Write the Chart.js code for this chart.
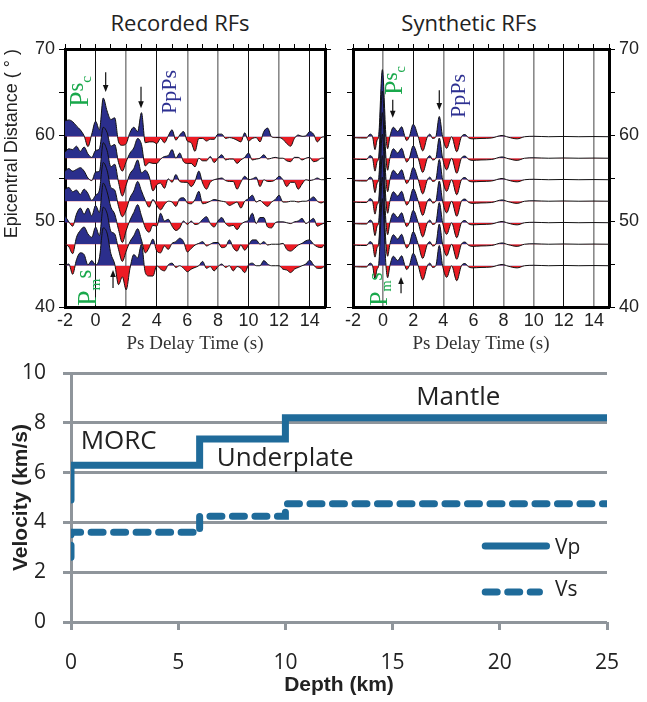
<!DOCTYPE html>
<html>
<head>
<meta charset="utf-8">
<title>Receiver functions and velocity model</title>
<script src="https://cdn.jsdelivr.net/npm/chart.js@4.4.1/dist/chart.umd.min.js"></script>
<style>
  body { margin: 0; background: #fff; }
  #fig { position: relative; width: 647px; height: 702px; overflow: hidden; }
  #fig canvas { position: absolute; }
  .ttl { position: absolute; top: 7px; font: 22px "Open Sans", sans-serif; line-height: 30px; color: #222;
         transform: translateX(-50%); white-space: nowrap; }
  .vlab { position: absolute; transform-origin: 0 0; transform: rotate(-90deg); white-space: nowrap;
          line-height: 1; font-family: "Liberation Serif", "Times New Roman", serif; }
  .vlab span { position: relative; }
</style>
</head>
<body>
<div id="fig">
  <div class="ttl" style="left:180px">Recorded RFs</div>
  <div class="ttl" style="left:469px">Synthetic RFs</div>
  <canvas id="recChart" width="335" height="365" style="left:0;top:0"></canvas>
  <canvas id="synChart" width="317" height="365" style="left:330px;top:0"></canvas>
  <canvas id="velChart" width="647" height="342" style="left:0;top:360px"></canvas>
</div>
<script>
// ---- data ----
// recorded RFs: delay time (s) and amplitude (in degrees of the y axis) per trace
const recTimes = [
  -2, -1.75, -1.5, -1.25, -1, -0.75, -0.5, -0.25, 0, 0.25, 0.5, 0.75, 1, 1.25, 1.5, 1.75,
  2, 2.25, 2.5, 2.75, 3, 3.25, 3.5, 3.75, 4, 4.25, 4.5, 4.75, 5, 5.25, 5.5, 5.75,
  6, 6.25, 6.5, 6.75, 7, 7.25, 7.5, 7.75, 8, 8.25, 8.5, 8.75, 9, 9.25, 9.5, 9.75,
  10, 10.25, 10.5, 10.75, 11, 11.25, 11.5, 11.75, 12, 12.25, 12.5, 12.75, 13, 13.25, 13.5, 13.75,
  14, 14.25, 14.5, 14.75, 15
];
const recDistances = [44.8, 47.3, 49.8, 52.3, 54.8, 57.3, 59.8];

const rec45 = [0.0, 0.2, -1.0, 0.7, 1.5, 1.3, 0.1, 0.6, 0.1, 0.9, 4.4, 3.8, 1.4, 0.2, -2.2, -1.3,
  -2.8, -0.3, 1.3, 0.9, 2.5, -0.8, -1.2, -1.2, 0.0, -0.4, -0.6, 0.1, 0.3, -0.2, 0.0, -0.3,
  -0.7, -0.4, -0.2, 0.0, 0.5, -0.3, -0.1, -0.6, -0.1, 0.2, -0.2, 0.0, -0.6, -0.1, -0.3, -0.8,
  0.1, 0.3, 0.0, 0.0, 0.6, 0.2, 0.0, 0.0, 0.0, -0.4, -0.5, -0.8, -0.4, -0.2, 0.0, 0.2,
  0.65, 0.1, -0.3, -0.3, 0];
const rec47 = [0.0, -0.3, -1.1, 0.8, 1.6, 2.0, 1.2, 0.8, 2.0, 1.0, 4.3, 3.6, 1.5, 1.2, -0.6, -2.0,
  -0.8, 0.3, 1.0, 1.8, 0.5, -1.0, -0.4, 0.6, -0.8, -1.0, -0.2, -0.6, 0.1, 0.3, 0.7, 0.3,
  -0.9, -0.5, -0.1, 0.1, 0.3, -0.2, 0.0, 0.2, 0.2, -0.4, -0.3, 0.5, -0.4, -0.8, -0.1, -0.7,
  -0.1, 0.5, 0.5, 0.0, 0.3, -0.1, 0.0, 0.0, 0.0, 0.1, -0.6, -0.8, -0.5, -0.1, 0.1, 0.4,
  0.5, 0.0, -0.3, -0.4, 0];
const rec50 = [0.8, 0.1, -0.4, 1.0, 1.7, 1.0, 1.7, 0.8, 2.0, 1.2, 4.6, 3.6, 1.8, 1.0, -0.8, -2.3,
  -0.9, 0.3, 1.2, 2.1, 0.8, -0.6, -1.1, -0.3, -0.4, 1.1, 0.2, 0.4, -0.4, -0.9, -0.6, 0.2,
  -0.2, 0.2, -0.2, -0.1, 0.4, 0.7, -0.1, -0.5, 0.2, 0.6, -0.1, -0.4, -0.3, -0.8, -0.2, 0.1,
  0.3, 1.1, -0.1, 0.6, 0.6, -0.5, -0.6, 0.0, 0.1, 0.1, 0.0, -0.1, 0.1, 0.2, 0.5, -0.1,
  0.2, 0.5, -0.4, -0.2, 0];
const rec52 = [1.4, 1.6, 1.1, 1.3, 0.8, 1.4, 0.9, 0.1, 0.7, 1.3, 4.5, 3.6, 1.6, 1.3, -0.6, -1.8,
  -1.0, 0.4, 1.2, 2.3, 1.2, 0.1, -0.7, 0.2, -0.5, -1.0, -0.4, 0.0, -0.1, -0.6, 0.3, 0.4,
  -0.2, -0.3, 0.2, 1.15, -0.3, -0.2, 0.0, 0.2, 0.1, 0.0, -0.1, -0.5, -0.3, -0.1, -0.8, 0.0,
  0.3, 0.7, -0.1, 0.1, -0.3, -0.6, -0.1, 0.2, 0.7, -0.1, -0.1, 0.0, 0.0, -0.1, 0.0, 0.0,
  0.2, 0.5, 0.0, -0.2, 0];
const rec55 = [1.0, 1.3, 1.0, 1.2, 1.4, 1.0, 0.2, -0.1, 0.9, 1.0, 4.3, 3.4, 1.5, 1.8, -0.3, -1.9,
  -0.6, 0.7, 1.3, 2.3, 0.8, 1.1, 0.4, -1.3, -0.6, -0.4, -1.0, 0.1, -0.3, 0.6, -0.2, -0.3,
  -0.3, -0.8, -0.2, 1.0, -0.4, -1.1, -0.3, 0.0, 0.1, 0.2, -0.1, -0.2, -0.2, -1.1, -0.3, 0.4,
  0.0, 0.1, 0.3, -0.8, 0.0, -0.2, -0.2, 0.0, 0.4, 0.0, -0.8, -0.3, -0.3, -1.1, -0.5, 0.0,
  -0.1, 0.0, 0.2, 0.0, 0];
const rec57 = [0.7, 1.1, 1.0, 1.4, 0.8, 1.3, 0.5, 0.1, 0.9, 1.1, 3.6, 3.0, 1.4, 1.6, -0.5, -1.5,
  -0.4, 0.6, 1.2, 2.3, 1.6, -0.9, -0.5, -0.6, -0.6, -0.1, 0.2, 0.3, 1.0, 0.0, 0.6, -0.4,
  -0.6, -0.6, -1.0, 0.0, -0.3, -0.3, 0.2, -0.5, 0.0, 0.4, -0.2, -0.1, -0.1, -0.6, -0.2, 0.1,
  0.6, -0.2, -0.1, 0.0, 0.4, -0.1, 0.0, 0.1, 0.0, 0.0, -0.3, -0.4, 0.1, 0.1, -0.2, 0.0,
  0.1, -0.4, -0.3, 0.0, 0];
const rec60 = [1.85, 1.95, 1.75, 1.25, 0.8, 0.1, -1.15, 0.3, 1.8, 0.8, 4.5, 3.0, 2.0, 2.2, -0.6, -1.0,
  -0.8, 0.5, 1.1, 0.6, 2.8, -0.7, -0.6, -0.6, -0.8, -0.2, -0.7, 0.1, 0.8, -0.4, 0.2, 0.6,
  -0.5, -0.7, -1.7, -0.2, -0.2, -0.5, -0.3, -0.3, 0.3, 0.3, -0.2, -0.1, -0.2, -0.4, -0.6, 0.45,
  -0.5, -0.2, -0.1, -0.6, 0.6, 1.0, 0.0, -0.1, -0.1, -0.3, -0.8, -1.1, -0.2, 0.2, 0.05, 0.1,
  0.6, 0.3, -0.6, -0.1, 0];
const recTraces = [rec45, rec47, rec50, rec52, rec55, rec57, rec60];

// synthetic RFs: one waveform, repeated at every distance
const synTimes = [-2, -1.5, -1.1, -0.87, -0.7, -0.54, -0.4, -0.3, -0.05, 0.19, 0.3, 0.45, 0.68, 0.97,
  1.23, 1.45, 1.56, 1.74, 2.0, 2.33, 2.63, 2.94, 3.11, 3.29, 3.5, 3.73, 3.95, 4.22, 4.55, 4.89,
  5.2, 5.44, 5.65, 5.9, 6.5, 7.2, 7.9, 8.3, 8.9, 9.4, 10, 11, 12, 13, 14, 15];
const synAmp = [-0.1, -0.15, -0.15, 0.3, 0, -1.5, -0.4, 0, 7.8, 0, -1.4, 0, 1.1, 0.6,
  1.15, 0, -0.45, 0, 1.45, 0, -1.65, 0, 0.3, -0.2, 0, 2.35, 0, -1.35, 0, -1.75,
  0, 0.25, -0.1, -0.25, -0.2, -0.15, 0.15, -0.05, -0.25, 0, 0.05, 0, 0.03, 0, 0.02, 0];
const synDistances = [44.8, 47.3, 49.8, 52.3, 54.8, 57.3, 59.8];

// velocity model: layer tops (km) and velocities (km/s)
const depthKm = [0, 0, 6, 10, 25];
const vpKms = [4.9, 6.3, 7.35, 8.2, 8.2];
const vsKms = [2.6, 3.6, 4.25, 4.75, 4.75];

// ---- styles ----
const BLUE = '#2b2e8c', RED = '#ec1c24', GREEN = '#19a84b', TXTBLUE = '#2e3192';
const PROFILE = '#1f6b9a', GREY = '#8f959b';
const SANS = '"Liberation Sans", Arial, sans-serif';
const SERIF = '"Liberation Serif", "Times New Roman", serif';
const OPEN = '"Open Sans", sans-serif';
const recGreyLines = [2, 6, 8, 12];
const synGreyLines = [0, 4, 8, 10, 14];

function traceDataset(times, amps, base) {
  return {
    data: times.map((t, i) => ({ x: t, y: base + amps[i] })),
    borderColor: '#111',
    borderWidth: 1,
    pointRadius: 0,
    cubicInterpolationMode: 'monotone',
    fill: { target: { value: base }, above: BLUE, below: RED }
  };
}

// arrows, text and key drawn in data coordinates
const notesPlugin = {
  id: 'notes',
  afterDraw(chart, args, opts) {
    const ctx = chart.ctx, xs = chart.scales.x, ys = chart.scales.y;
    (opts.items || []).forEach(n => {
      const px = xs.getPixelForValue(n.x), py = ys.getPixelForValue(n.y);
      ctx.save();
      if (n.kind === 'arrow') {
        const py2 = ys.getPixelForValue(n.y2);
        const dir = py2 > py ? 1 : -1;
        ctx.strokeStyle = '#111';
        ctx.fillStyle = '#111';
        ctx.lineWidth = 1.2;
        ctx.beginPath();
        ctx.moveTo(px, py);
        ctx.lineTo(px, py2 - dir * 5);
        ctx.stroke();
        ctx.beginPath();
        ctx.moveTo(px, py2);
        ctx.lineTo(px - 2.8, py2 - dir * 7);
        ctx.lineTo(px + 2.8, py2 - dir * 7);
        ctx.closePath();
        ctx.fill();
      } else if (n.kind === 'text') {
        ctx.font = n.font;
        ctx.fillStyle = n.color || '#222';
        ctx.textAlign = 'left';
        ctx.textBaseline = 'middle';
        ctx.fillText(n.text, px, py);
      } else if (n.kind === 'key') {
        ctx.strokeStyle = PROFILE;
        ctx.lineWidth = 7;
        ctx.lineCap = 'round';
        if (n.dash) ctx.setLineDash(n.dash);
        ctx.beginPath();
        ctx.moveTo(px, py);
        ctx.lineTo(xs.getPixelForValue(n.x2), py);
        ctx.stroke();
      }
      ctx.restore();
    });
  }
};

// rotated phase labels as html text, placed through the chart scales
function placeLabels(chart, offX, offY, labels) {
  const fig = document.getElementById('fig');
  labels.forEach(l => {
    const el = document.createElement('div');
    el.className = 'vlab';
    el.style.color = l.color;
    el.style.fontSize = l.size + 'px';
    el.innerHTML = l.html;
    const px = offX + chart.scales.x.getPixelForValue(l.x);
    const py = offY + chart.scales.y.getPixelForValue(l.y);
    el.style.left = (px - 0.84 * l.size) + 'px';   // baseline sits on px
    el.style.top = py + 'px';
    fig.appendChild(el);
  });
}

const hidden = () => '';
const tens = v => (v % 10 === 0 ? String(v) : '');

function rfChart(id, datasets, cfg) {
  const tickFont = { family: SANS, size: 18 };
  return new Chart(document.getElementById(id), {
    type: 'line',
    data: { datasets },
    options: {
      responsive: false,
      animation: false,
      events: [],
      layout: { padding: { top: 44, right: cfg.padRight, left: 0, bottom: 0 } },
      plugins: {
        legend: { display: false },
        tooltip: { enabled: false },
        notes: { items: cfg.notes }
      },
      scales: {
        x: {
          type: 'linear', min: -2, max: 15, z: 1,
          ticks: { stepSize: 2, includeBounds: false, padding: 3, maxRotation: 0, color: '#222', font: tickFont },
          grid: {
            drawTicks: false,
            color: c => (c.tick && cfg.grey.includes(c.tick.value)) ? '#8a8a8a' : '#111',
            lineWidth: c => (c.tick && cfg.grey.includes(c.tick.value)) ? 1.6 : 1
          },
          border: { color: '#000', width: 3 },
          title: { display: true, text: 'Ps Delay Time (s)', color: '#333',
                   font: { family: SERIF, size: 19 }, padding: { top: 0, bottom: 10 } },
          afterFit: s => { s.height = 58; }
        },
        xTop: {
          type: 'linear', position: 'top', min: -2, max: 15,
          ticks: { stepSize: 1, callback: hidden, font: { size: 1 } },
          grid: { drawOnChartArea: false, tickLength: 5, color: '#000', lineWidth: 1 },
          border: { color: '#000', width: 3 },
          afterFit: s => { s.height = 5; }
        },
        y: {
          type: 'linear', position: 'left', min: 40, max: 70,
          ticks: { stepSize: 5, padding: 4, color: '#222', font: tickFont,
                   callback: cfg.leftLabels ? tens : hidden },
          grid: { drawOnChartArea: false, tickLength: 6, color: '#000' },
          border: { color: '#000', width: 3 },
          title: cfg.yTitle || { display: false },
          afterFit: s => { s.width = cfg.leftWidth; }
        },
        yRight: {
          type: 'linear', position: 'right', min: 40, max: 70,
          ticks: { stepSize: 5, padding: 4, color: '#222', font: tickFont,
                   callback: cfg.rightLabels ? tens : hidden },
          grid: { drawOnChartArea: false, tickLength: 6, color: '#000' },
          border: { color: '#000', width: 3 },
          afterFit: s => { s.width = cfg.rightWidth; }
        }
      }
    },
    plugins: [notesPlugin]
  });
}

const psHtml = 'P<span style="font-size:0.8em;top:-5px">s</span><span style="font-size:0.55em;top:3px">c</span>';
const pmHtml = 'P<span style="font-size:0.55em;top:4px">m</span><span style="font-size:0.8em;top:-5px">s</span>';

const recChart = rfChart('recChart', recTraces.map((a, i) => traceDataset(recTimes, a, recDistances[i])), {
  padRight: 5, leftWidth: 65, rightWidth: 5, leftLabels: true, rightLabels: false, grey: recGreyLines,
  yTitle: { display: true, text: 'Epicentral Distance ( \u00B0 )', align: 'end', color: '#222',
            font: { family: SANS, size: 18 }, padding: { top: 1, bottom: 0 } },
  notes: [
    { kind: 'arrow', x: 0.66, y: 67.3, y2: 65.0 },
    { kind: 'arrow', x: 2.97, y: 65.6, y2: 63.1 },
    { kind: 'arrow', x: 1.14, y: 42.2, y2: 44.3 }
  ]
});
placeLabels(recChart, 0, 0, [
  { x: -0.43, y: 63.3, size: 28, color: GREEN, html: psHtml },
  { x: 0.09, y: 40.1, size: 28, color: GREEN, html: pmHtml },
  { x: 5.26, y: 62.5, size: 22, color: TXTBLUE, html: 'PpPs' }
]);

const synChart = rfChart('synChart', synDistances.map(d => traceDataset(synTimes, synAmp, d)), {
  padRight: 0, leftWidth: 23, rightWidth: 38, leftLabels: false, rightLabels: true, grey: synGreyLines,
  notes: [
    { kind: 'arrow', x: 0.64, y: 64.1, y2: 62.0 },
    { kind: 'arrow', x: 3.73, y: 65.2, y2: 62.9 },
    { kind: 'arrow', x: 1.19, y: 41.6, y2: 43.5 }
  ]
});
placeLabels(synChart, 330, 0, [
  { x: 1.3, y: 64.6, size: 26, color: GREEN, html: psHtml },
  { x: 0.32, y: 40.1, size: 26, color: GREEN, html: pmHtml },
  { x: 5.5, y: 62.0, size: 22, color: TXTBLUE, html: 'PpPs' }
]);

// velocity model
new Chart(document.getElementById('velChart'), {
  type: 'line',
  data: {
    datasets: [
      { label: 'Vp', data: depthKm.map((d, i) => ({ x: d, y: vpKms[i] })), stepped: 'before',
        borderColor: PROFILE, borderWidth: 7, borderCapStyle: 'round', pointRadius: 0, fill: false },
      { label: 'Vs', data: depthKm.map((d, i) => ({ x: d, y: vsKms[i] })), stepped: 'before',
        borderColor: PROFILE, borderWidth: 7, borderCapStyle: 'round', borderDash: [12, 10.5],
        pointRadius: 0, fill: false }
    ]
  },
  options: {
    responsive: false,
    animation: false,
    events: [],
    layout: { padding: { top: 13, right: 40, left: 0, bottom: 0 } },
    plugins: {
      legend: { display: false },
      tooltip: { enabled: false },
      notes: {
        items: [
          { kind: 'text', x: 0.45, y: 7.25, text: 'MORC', font: '26px ' + OPEN },
          { kind: 'text', x: 6.8, y: 6.56, text: 'Underplate', font: '26px ' + OPEN },
          { kind: 'text', x: 16.1, y: 9.02, text: 'Mantle', font: '26px ' + OPEN },
          { kind: 'key', x: 19.32, x2: 22.18, y: 3.05 },
          { kind: 'key', x: 19.32, x2: 21.85, y: 1.2, dash: [12, 10.5] },
          { kind: 'text', x: 22.57, y: 2.97, text: 'Vp', font: '21px ' + OPEN },
          { kind: 'text', x: 22.57, y: 1.29, text: 'Vs', font: '21px ' + OPEN }
        ]
      }
    },
    scales: {
      x: {
        type: 'linear', min: 0, max: 25,
        ticks: { stepSize: 5, padding: 20, color: '#222', font: { family: OPEN, size: 21 } },
        grid: { drawOnChartArea: false, tickLength: 8, color: GREY, lineWidth: 3 },
        border: { display: false },
        title: { display: true, text: 'Depth (km)', color: '#222',
                 font: { family: SANS, size: 21, weight: 'bold' }, padding: { top: 0, bottom: 4 } },
        afterFit: s => { s.height = 80; s.paddingLeft = 0; s.paddingRight = 0; }
      },
      y: {
        type: 'linear', min: 0, max: 10,
        ticks: { stepSize: 2, padding: 17, color: '#222', font: { family: OPEN, size: 21 } },
        grid: { tickLength: 8, color: GREY, lineWidth: 3 },
        border: { color: GREY, width: 3 },
        title: { display: true, text: 'Velocity (km/s)', color: '#222',
                 font: { family: SANS, size: 21, weight: 'bold' }, padding: { top: 9, bottom: 0 } },
        afterFit: s => { s.width = 71; s.paddingTop = 0; s.paddingBottom = 0; }
      }
    }
  },
  plugins: [notesPlugin]
});
</script>
</body>
</html>
